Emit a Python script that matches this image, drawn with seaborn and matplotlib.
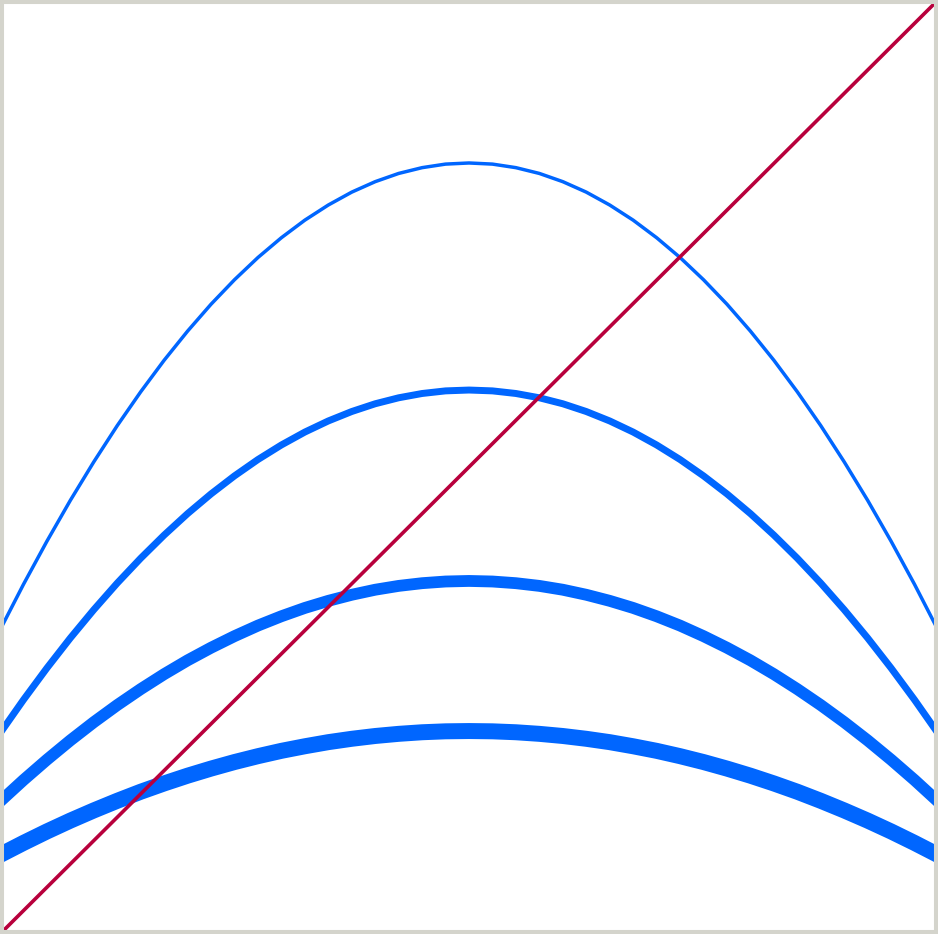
import numpy as np
import pandas as pd
import matplotlib
matplotlib.use('Agg')
import matplotlib.pyplot as plt
import seaborn as sns

x_vals = [0.000, 0.025, 0.050, 0.075, 0.100, 0.125, 0.150, 0.175, 0.200, 0.225,
          0.250, 0.275, 0.300, 0.325, 0.350, 0.375, 0.400, 0.425, 0.450, 0.475,
          0.500,
          0.525, 0.550, 0.575, 0.600, 0.625, 0.650, 0.675, 0.700, 0.725, 0.750,
          0.775, 0.800, 0.825, 0.850, 0.875, 0.900, 0.925, 0.950, 0.975, 1.000]

# four arches, from top (thin) to bottom (thick)
arch_1 = [0.3255, 0.3743, 0.4205, 0.4643, 0.5055, 0.5443, 0.5805, 0.6143, 0.6455, 0.6743,
          0.7005, 0.7243, 0.7455, 0.7643, 0.7805, 0.7943, 0.8055, 0.8143, 0.8205, 0.8243,
          0.8255,
          0.8243, 0.8205, 0.8143, 0.8055, 0.7943, 0.7805, 0.7643, 0.7455, 0.7243, 0.7005,
          0.6743, 0.6455, 0.6143, 0.5805, 0.5443, 0.5055, 0.4643, 0.4205, 0.3743, 0.3255]
arch_2 = [0.2149, 0.2507, 0.2847, 0.3169, 0.3472, 0.3757, 0.4023, 0.4271, 0.4501, 0.4712,
          0.4905, 0.5080, 0.5236, 0.5374, 0.5493, 0.5594, 0.5677, 0.5741, 0.5787, 0.5815,
          0.5824,
          0.5815, 0.5787, 0.5741, 0.5677, 0.5594, 0.5493, 0.5374, 0.5236, 0.5080, 0.4905,
          0.4712, 0.4501, 0.4271, 0.4023, 0.3757, 0.3472, 0.3169, 0.2847, 0.2507, 0.2149]
arch_3 = [0.1418, 0.1648, 0.1866, 0.2073, 0.2268, 0.2451, 0.2622, 0.2782, 0.2930, 0.3065,
          0.3189, 0.3302, 0.3402, 0.3491, 0.3567, 0.3632, 0.3686, 0.3727, 0.3756, 0.3774,
          0.3780,
          0.3774, 0.3756, 0.3727, 0.3686, 0.3632, 0.3567, 0.3491, 0.3402, 0.3302, 0.3189,
          0.3065, 0.2930, 0.2782, 0.2622, 0.2451, 0.2268, 0.2073, 0.1866, 0.1648, 0.1418]
arch_4 = [0.0846, 0.0975, 0.1098, 0.1214, 0.1323, 0.1426, 0.1523, 0.1612, 0.1695, 0.1771,
          0.1841, 0.1904, 0.1961, 0.2010, 0.2054, 0.2090, 0.2120, 0.2143, 0.2160, 0.2170,
          0.2173,
          0.2170, 0.2160, 0.2143, 0.2120, 0.2090, 0.2054, 0.2010, 0.1961, 0.1904, 0.1841,
          0.1771, 0.1695, 0.1612, 0.1523, 0.1426, 0.1323, 0.1214, 0.1098, 0.0975, 0.0846]

# the diagonal
diag_x = [0.0, 1.0]
diag_y = [0.0, 1.0]

sns.set_style('white')

fig = plt.figure(figsize=(9.38, 9.34), dpi=100)
ax = fig.add_axes([0, 0, 1, 1])

widths = [2.5, 5.0, 8.5, 11.5]
for arch, lw in zip([arch_1, arch_2, arch_3, arch_4], widths):
    df = pd.DataFrame({'x': x_vals, 'y': arch})
    sns.lineplot(data=df, x='x', y='y', ax=ax, color='#0066ff', linewidth=lw,
                 solid_capstyle='butt', solid_joinstyle='round')

sns.lineplot(x=diag_x, y=diag_y, ax=ax, color='#b8003c', linewidth=2.6)

ax.set_xlim(0, 1)
ax.set_ylim(0, 1)
ax.set_xticks([])
ax.set_yticks([])
ax.set_xlabel('')
ax.set_ylabel('')
for side in ax.spines.values():
    side.set_visible(True)
    side.set_color('#d4d4cc')
    side.set_linewidth(5.8)

fig.savefig('out.png', dpi=100)
